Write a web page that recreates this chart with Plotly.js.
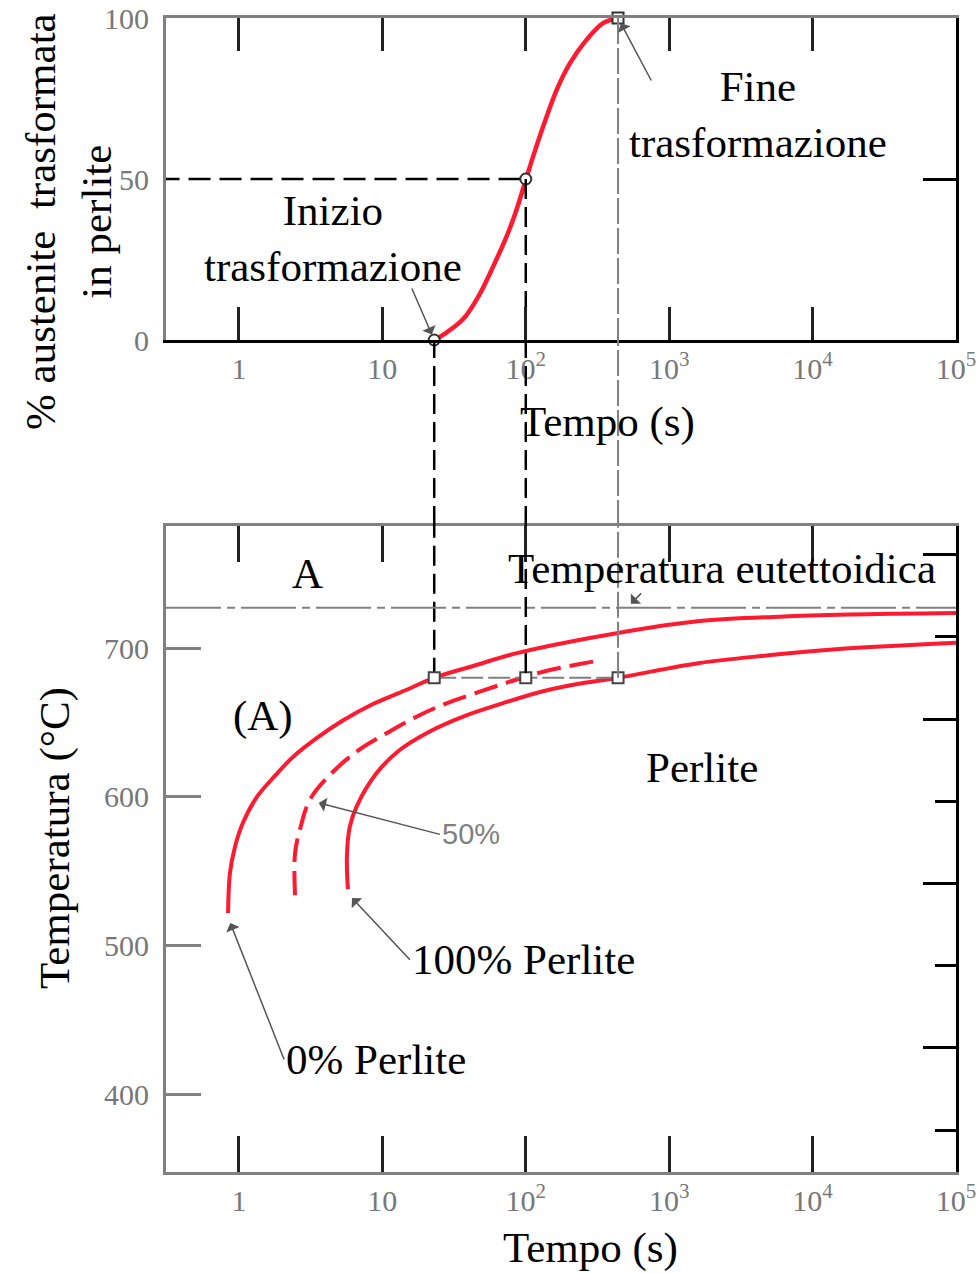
<!DOCTYPE html>
<html>
<head>
<meta charset="utf-8">
<script src="https://cdn.plot.ly/plotly-3.0.1.min.js"></script>
<style>html,body{margin:0;padding:0;background:#fff;}#chart{width:980px;height:1274px;}</style>
</head>
<body>
<div id="chart"></div>
<script>
// ---------- DATA ----------
// Upper chart: % austenite transformed to pearlite vs time (s)
const tTransf   = [23, 26.5, 36.6, 47.8, 59.2, 73.4, 86.1, 98.4, 112, 132, 164, 203, 265, 346, 440];
const pctTransf = [0, 1.6, 6.5, 14.3, 22.8, 32.1, 40.4, 48.7, 56.7, 66.2, 77.6, 85.9, 93.2, 98.4, 100];

// Key points of the isothermal transformation
const tMarks   = [23, 100, 440];     // start, 50 %, end (s)
const pctMarks = [0, 50, 100];       // % transformed
const isoT     = 680;                // isothermal temperature (°C)
const eutT     = 727;                // eutectoid temperature (°C)

// Lower chart: TTT curves (time s, temperature °C)
const t0   = [0.84, 0.866, 0.938, 1.066, 1.335, 1.78, 2.38, 3.5, 5.3, 8.6, 14.35, 23, 44.1, 86.6, 430, 1630, 5890, 17850, 100000];
const T0   = [522, 549, 566.4, 582.6, 600, 614.1, 626.8, 639.6, 651.3, 662.4, 671.5, 680, 688.3, 696.6, 710, 718.1, 721.1, 722.5, 723.5];
const t50  = [2.46, 2.46, 2.66, 3.12, 4.31, 6.61, 10.7, 17.3, 28, 47.8, 77.4, 125, 238, 300];
const T50  = [534, 562, 578, 598, 614.8, 630.4, 642.8, 653.9, 662.9, 670.7, 677.4, 683.5, 689.3, 691];
const t100 = [5.75, 5.66, 5.93, 6.61, 9.12, 13.2, 21.4, 36.6, 69.5, 132, 251, 440, 1630, 4800, 13800, 100000];
const T100 = [538, 560, 580, 593.5, 616, 631.5, 644, 654, 663, 671, 676.5, 680, 690, 695, 699, 703.5];

// Axis ticks / ranges
const decadeVals = [1, 10, 100, 1000, 10000, 100000];
const decadeText = ['1', '10', '10<sup>2</sup>', '10<sup>3</sup>', '10<sup>4</sup>', '10<sup>5</sup>'];
const pctTicks   = [0, 50, 100];
const tempTicks  = [400, 500, 600, 700];
const tempRangeC = [348, 782];
const tempRangeF = [649, 1435];      // right-hand (°F) tick scale of the lower chart
const timeRange  = [0.31, 100000];

// ---------- STYLE ----------
const RED = '#ff1a30';
const GRAY = '#808080';
const serif = 'Liberation Serif, Times New Roman, serif';
const px = x => x / 980;
const py = y => 1 - y / 1274;
const xDom = [px(166), px(956)];
const yDomTop = [py(340), py(18)];
const yDomBot = [py(1172), py(526)];
const c2f = c => c * 9 / 5 + 32;
const logRange = timeRange.map(Math.log10);
const spl = {shape: 'spline', smoothing: 1};

const traces = [
  // upper S-curve
  {x: tTransf, y: pctTransf, xaxis: 'x', yaxis: 'y', mode: 'lines',
   line: Object.assign({color: RED, width: 4.5}, spl), hoverinfo: 'skip'},
  // dashed horizontal at 50 %
  {x: [0.1, tMarks[1]], y: [pctMarks[1], pctMarks[1]], xaxis: 'x', yaxis: 'y', mode: 'lines',
   line: {color: '#000', width: 2.5, dash: '22px,9px'}, hoverinfo: 'skip'},
  // vertical dashed at 100 s (upper) - on the right-hand overlay axis
  {x: [tMarks[1], tMarks[1]], y: [pctMarks[1], -10], xaxis: 'x', yaxis: 'y3', mode: 'lines',
   line: {color: '#000', width: 2.5, dash: '20px,8px'}, hoverinfo: 'skip'},
  // vertical gray at end (upper) - on the top overlay axis
  {x: [tMarks[2], tMarks[2]], y: [pctMarks[2], -10], xaxis: 'x3', yaxis: 'y', mode: 'lines',
   line: {color: GRAY, width: 2, dash: '26px,4px'}, hoverinfo: 'skip'},
  // upper markers
  {x: tMarks, y: pctMarks, xaxis: 'x', yaxis: 'y', mode: 'markers', cliponaxis: false,
   marker: {symbol: ['circle', 'circle', 'square'], size: 11, color: '#fff', line: {color: '#333', width: 2}}, hoverinfo: 'skip'},

  // lower curves
  {x: t0, y: T0, xaxis: 'x2', yaxis: 'y2', mode: 'lines',
   line: Object.assign({color: RED, width: 4}, spl), hoverinfo: 'skip'},
  {x: t50, y: T50, xaxis: 'x2', yaxis: 'y2', mode: 'lines',
   line: Object.assign({color: RED, width: 4, dash: '24px,9px'}, spl), hoverinfo: 'skip'},
  {x: t100, y: T100, xaxis: 'x2', yaxis: 'y2', mode: 'lines',
   line: Object.assign({color: RED, width: 4}, spl), hoverinfo: 'skip'},
  // vertical lines in lower chart
  {x: [tMarks[0], tMarks[0]], y: [isoT, 800], xaxis: 'x2', yaxis: 'y2', mode: 'lines',
   line: {color: '#000', width: 2.5, dash: '20px,8px'}, hoverinfo: 'skip'},
  {x: [tMarks[1], tMarks[1]], y: [c2f(isoT), c2f(800)], xaxis: 'x2', yaxis: 'y4', mode: 'lines',
   line: {color: '#000', width: 2.5, dash: '20px,8px'}, hoverinfo: 'skip'},
  {x: [tMarks[2], tMarks[2]], y: [isoT, 800], xaxis: 'x4', yaxis: 'y2', mode: 'lines',
   line: {color: GRAY, width: 2, dash: '26px,4px'}, hoverinfo: 'skip'},
  // isothermal horizontal
  {x: [tMarks[0], tMarks[2]], y: [isoT, isoT], xaxis: 'x2', yaxis: 'y2', mode: 'lines',
   line: {color: GRAY, width: 2, dash: '22px,5px'}, hoverinfo: 'skip'},
  // lower markers
  {x: tMarks, y: tMarks.map(() => isoT), xaxis: 'x2', yaxis: 'y2', mode: 'markers', cliponaxis: false,
   marker: {symbol: 'square', size: 11, color: '#fff', line: {color: '#444', width: 2}}, hoverinfo: 'skip'}
];

const tickFont = {family: serif, size: 30, color: '#777'};
const bigFont = {family: serif, size: 43, color: '#000'};
const arrowStyle = {showarrow: true, arrowhead: 1, arrowsize: 1.6, arrowwidth: 1.5, arrowcolor: '#555', standoff: 6};

function txt(text, x, y, extra) {
  return Object.assign({text: text, xref: 'paper', yref: 'paper', x: px(x), y: py(y),
    xanchor: 'center', yanchor: 'middle', showarrow: false, font: bigFont}, extra || {});
}
function arrow(xref, yref, xv, yv, ax, ay) {
  return Object.assign({text: '', xref: xref, yref: yref, x: Math.log10(xv), y: yv, ax: ax, ay: ay}, arrowStyle);
}
// label with its own arrow: text box starts at the arrow tail
function labelArrow(text, xv, yv, ax, ay, font) {
  return Object.assign({text: text, xref: 'x2', yref: 'y2', x: Math.log10(xv), y: yv, ax: ax, ay: ay,
    xanchor: 'left', yanchor: 'middle', font: font || bigFont}, arrowStyle);
}

const annotations = [
  txt('Inizio<br>trasformazione', 333, 238),
  txt('Fine<br>trasformazione', 758, 115),
  txt('Tempo (s)', 607, 422),
  txt('Tempo (s)', 590, 1248),
  txt('% austenite  trasformata<br>in perlite', 68, 222, {textangle: -90}),
  txt('Temperatura (°C)', 55, 838, {textangle: -90}),
  txt('A', 307, 573),
  txt('Temperatura eutettoidica', 722, 568),
  txt('(A)', 263, 716),
  txt('Perlite', 702, 767),
  labelArrow('50%', 3.28, 597, 127, 33, {family: 'Liberation Sans, Arial, sans-serif', size: 29, color: GRAY}),
  labelArrow('100% Perlite', 5.75, 535, 62, 66),
  labelArrow('0% Perlite', 0.84, 519, 56, 142),
  arrow('x', 'y', tMarks[0], pctMarks[0], -23, -53),
  arrow('x', 'y', tMarks[2], pctMarks[2], 34, 64),
  arrow('x2', 'y2', 505, eutT, 16, -16)
];

const shapes = [
  // connecting dashed lines through the gap between the two charts
  {type: 'line', xref: 'x', yref: 'paper', x0: tMarks[0], x1: tMarks[0], y0: yDomBot[1], y1: yDomTop[0],
   line: {color: '#000', width: 2.5, dash: '20px,8px'}},
  {type: 'line', xref: 'x', yref: 'paper', x0: tMarks[1], x1: tMarks[1], y0: yDomBot[1], y1: yDomTop[0],
   line: {color: '#000', width: 2.5, dash: '20px,8px'}},
  {type: 'line', xref: 'x', yref: 'paper', x0: tMarks[2], x1: tMarks[2], y0: yDomBot[1], y1: yDomTop[0],
   line: {color: GRAY, width: 2, dash: '26px,4px'}},
  // eutectoid temperature
  {type: 'line', xref: 'x2 domain', yref: 'y2', x0: 0, x1: 1, y0: eutT, y1: eutT,
   line: {color: GRAY, width: 2, dash: '55px,6px,8px,6px'}}
];

const baseX = {type: 'log', range: logRange, domain: xDom, showgrid: false, zeroline: false,
  tickvals: decadeVals, ticktext: decadeText, tickfont: tickFont, ticks: 'inside',
  ticklen: 33, tickwidth: 3, showline: true, linewidth: 3};

const layout = {
  width: 980, height: 1274,
  margin: {l: 0, r: 0, t: 0, b: 0},
  paper_bgcolor: '#fff', plot_bgcolor: '#fff',
  showlegend: false,
  hovermode: false,
  xaxis: Object.assign({}, baseX, {anchor: 'y', linecolor: '#000', tickcolor: '#222', ticklabelstandoff: 0}),
  xaxis3: Object.assign({}, baseX, {anchor: 'y', overlaying: 'x', side: 'top', linecolor: GRAY, tickcolor: '#222', showticklabels: false}),
  xaxis2: Object.assign({}, baseX, {anchor: 'y2', linecolor: GRAY, tickcolor: '#222', ticklen: 36, ticklabelstandoff: 0}),
  xaxis4: Object.assign({}, baseX, {anchor: 'y2', overlaying: 'x2', side: 'top', linecolor: GRAY, tickcolor: '#222', ticklen: 36, showticklabels: false}),
  yaxis: {domain: yDomTop, range: [0, 100], anchor: 'x', showgrid: false, zeroline: false,
    tickvals: pctTicks, tickfont: tickFont, ticks: '', showline: true, linecolor: GRAY, linewidth: 3, ticklabelstandoff: 8},
  yaxis3: {domain: yDomTop, range: [0, 100], anchor: 'x', overlaying: 'y', side: 'right', showgrid: false, zeroline: false,
    tickvals: [pctMarks[1]], showticklabels: false, ticks: 'inside', ticklen: 33, tickwidth: 3, tickcolor: '#000',
    showline: true, linecolor: '#000', linewidth: 3},
  yaxis2: {domain: yDomBot, range: tempRangeC, anchor: 'x2', showgrid: false, zeroline: false,
    tickvals: tempTicks, tickfont: tickFont, ticks: 'inside', ticklen: 35, tickwidth: 3, tickcolor: GRAY,
    showline: true, linecolor: GRAY, linewidth: 3, ticklabelstandoff: 8},
  yaxis4: {domain: yDomBot, range: tempRangeF, anchor: 'x2', overlaying: 'y2', side: 'right',
    showgrid: false, zeroline: false, showticklabels: false, tick0: 0, dtick: 200,
    ticks: 'inside', ticklen: 33, tickwidth: 3, tickcolor: '#000',
    minor: {dtick: 100, ticks: 'inside', ticklen: 21, tickwidth: 3, tickcolor: '#000'},
    showline: true, linecolor: '#000', linewidth: 3},
  annotations: annotations,
  shapes: shapes
};

Plotly.newPlot('chart', traces, layout, {displayModeBar: false, staticPlot: true});
</script>
</body>
</html>
